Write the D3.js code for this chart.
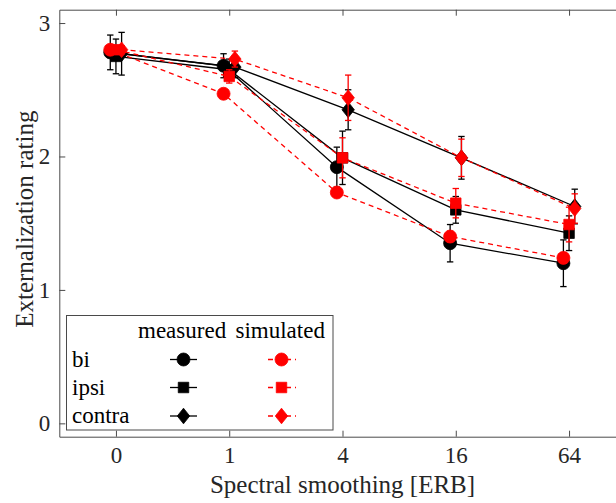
<!DOCTYPE html>
<html>
<head>
<meta charset="utf-8">
<script src="https://cdn.jsdelivr.net/npm/d3@7"></script>
<style>
  html, body { margin: 0; padding: 0; background: #fff; }
  svg { display: block; }
  svg text { font-family: "Liberation Serif", "Times New Roman", Times, serif !important; }
</style>
</head>
<body>
<svg id="chart" width="616" height="503"></svg>
<script>
// ---- data ----
const categories = ["0", "1", "4", "16", "64"];
const yTicks = [0, 1, 2, 3];

const measBi        = [2.78, 2.68, 1.92, 1.35, 1.20];
const measBiErr     = [0.13, 0.09, 0.15, 0.14, 0.175];
const measIpsi      = [2.75, 2.65, 1.99, 1.60, 1.425];
const measIpsiErr   = [0.13, 0.08, 0.20, 0.10, 0.13];
const measContra    = [2.77, 2.67, 2.35, 1.99, 1.625];
const measContraErr = [0.16, 0.08, 0.15, 0.16, 0.13];

const simBi         = [2.80, 2.47, 1.73, 1.40, 1.24];
const simBiErr      = [0.02, 0.02, 0.02, 0.04, 0.04];
const simIpsi       = [2.80, 2.60, 1.99, 1.65, 1.49];
const simIpsiErr    = [0.03, 0.05, 0.15, 0.11, 0.13];
const simContra     = [2.80, 2.73, 2.44, 1.99, 1.61];
const simContraErr  = [0.03, 0.06, 0.17, 0.14, 0.11];

const conditions = ["bi", "ipsi", "contra"];
const conditionShift = { bi: -0.05, ipsi: 0, contra: 0.05 };
const conditionShape = { bi: "circle", ipsi: "square", contra: "diamond" };

const series = [
  { cond: "bi",     type: "measured",  values: measBi,     err: measBiErr },
  { cond: "ipsi",   type: "measured",  values: measIpsi,   err: measIpsiErr },
  { cond: "contra", type: "measured",  values: measContra, err: measContraErr },
  { cond: "bi",     type: "simulated", values: simBi,      err: simBiErr },
  { cond: "ipsi",   type: "simulated", values: simIpsi,    err: simIpsiErr },
  { cond: "contra", type: "simulated", values: simContra,  err: simContraErr }
];

// ---- layout ----
const FONT = '"Liberation Serif", "Times New Roman", Times, serif';
const svg = d3.select("#chart");
const L = 59.3, R = 625.7, T = 9.7, B = 436.7;
const x = d3.scaleLinear().domain([-0.5, categories.length - 0.5]).range([L, R]);
const y = d3.scaleLinear().domain([-0.1, 3.1]).range([B, T]);

const axisColor = "#4a4a4a";
const tickFont = 23, labelFont = 25, legendFont = 23;

// axes (ticks inward)
const gx = svg.append("g").attr("transform", `translate(0,${B})`)
  .call(d3.axisBottom(x).tickValues(d3.range(categories.length))
    .tickFormat(i => categories[i]).tickSizeInner(-6).tickSizeOuter(0).tickPadding(10));
const gxTop = svg.append("g").attr("transform", `translate(0,${T})`)
  .call(d3.axisTop(x).tickValues(d3.range(categories.length))
    .tickFormat("").tickSizeInner(-6).tickSizeOuter(0));
const gy = svg.append("g").attr("transform", `translate(${L},0)`)
  .call(d3.axisLeft(y).tickValues(yTicks).tickFormat(d3.format("d"))
    .tickSizeInner(-6).tickSizeOuter(0).tickPadding(9));

[gx, gxTop, gy].forEach(g => {
  g.attr("font-family", FONT).attr("font-size", tickFont);
  g.selectAll("path.domain").attr("stroke", axisColor).attr("stroke-width", 1);
  g.selectAll(".tick line").attr("stroke", axisColor).attr("stroke-width", 1);
  g.selectAll(".tick text").attr("fill", "#262626")
    .attr("font-family", FONT).attr("font-size", tickFont);
});

// axis labels
svg.append("text").attr("x", (L + R) / 2).attr("y", 493)
  .attr("text-anchor", "middle").attr("fill", "#262626")
  .attr("font-family", FONT).attr("font-size", labelFont).text("Spectral smoothing [ERB]");
svg.append("text").attr("transform", `translate(33,${(T + B) / 2 - 4}) rotate(-90)`)
  .attr("text-anchor", "middle").attr("fill", "#262626")
  .attr("font-family", FONT).attr("font-size", labelFont).text("Externalization rating");

// ---- marks ----
const shapes = {
  circle: d3.symbol().type(d3.symbolCircle).size(Math.PI * 6.5 * 6.5),
  square: d3.symbol().type(d3.symbolSquare).size(10.5 * 10.5)
};
function drawMarker(g, shape, cx, cy, color) {
  if (shape === "diamond") {
    const w = 6.2, h = 7.8;
    g.append("path")
      .attr("d", `M${cx},${cy - h}L${cx + w},${cy}L${cx},${cy + h}L${cx - w},${cy}Z`)
      .attr("fill", color).attr("stroke", color).attr("stroke-width", 0.8);
  } else {
    g.append("path").attr("d", shapes[shape]())
      .attr("transform", `translate(${cx},${cy})`)
      .attr("fill", color).attr("stroke", color).attr("stroke-width", 0.8);
  }
}

const plot = svg.append("g");
series.forEach(s => {
  const color = s.type === "measured" ? "#000000" : "#ff0000";
  const g = plot.append("g");
  const xs = i => x(i + conditionShift[s.cond]);
  const line = d3.line().x((d, i) => xs(i)).y(d => y(d));
  g.append("path").datum(s.values).attr("d", line)
    .attr("fill", "none").attr("stroke", color).attr("stroke-width", 1.3)
    .attr("stroke-dasharray", s.type === "simulated" ? "5,4" : null);
  s.values.forEach((v, i) => {
    const cx = xs(i), e = s.err[i];
    const y1 = y(v + e), y2 = y(v - e);
    g.append("line").attr("x1", cx).attr("x2", cx).attr("y1", y1).attr("y2", y2)
      .attr("stroke", color).attr("stroke-width", 1.3);
    [y1, y2].forEach(yy => g.append("line").attr("x1", cx - 3.2).attr("x2", cx + 3.2)
      .attr("y1", yy).attr("y2", yy).attr("stroke", color).attr("stroke-width", 1.3));
  });
  s.values.forEach((v, i) => drawMarker(g, conditionShape[s.cond], xs(i), y(v), color));
});

// ---- legend ----
const lg = svg.append("g").attr("font-family", FONT).attr("font-size", legendFont);
lg.append("rect").attr("x", 66.5).attr("y", 315.5).attr("width", 266.5).attr("height", 114.5)
  .attr("fill", "#fff").attr("stroke", axisColor).attr("stroke-width", 1);
lg.append("text").attr("x", 138).attr("y", 338).attr("fill", "#000")
  .attr("font-family", FONT).attr("font-size", legendFont).text("measured");
lg.append("text").attr("x", 235.5).attr("y", 338).attr("fill", "#000")
  .attr("font-family", FONT).attr("font-size", legendFont).text("simulated");
const rowY = [359.5, 387.5, 416];
conditions.forEach((c, k) => {
  const yy = rowY[k];
  lg.append("text").attr("x", 72).attr("y", yy + 7).attr("fill", "#000")
    .attr("font-family", FONT).attr("font-size", legendFont).text(c);
  lg.append("line").attr("x1", 170).attr("x2", 197).attr("y1", yy).attr("y2", yy)
    .attr("stroke", "#000").attr("stroke-width", 1.3);
  drawMarker(lg, conditionShape[c], 183.5, yy, "#000");
  lg.append("line").attr("x1", 268).attr("x2", 296).attr("y1", yy).attr("y2", yy)
    .attr("stroke", "#ff0000").attr("stroke-width", 1.3).attr("stroke-dasharray", "5,4");
  drawMarker(lg, conditionShape[c], 281.5, yy, "#ff0000");
});
</script>
</body>
</html>
